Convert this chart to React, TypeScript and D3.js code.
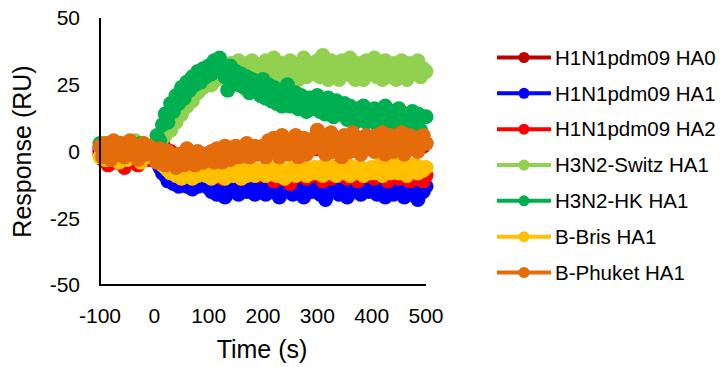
import React from "react";
import * as d3 from "d3";

// time points every 5 s, -100 .. 500
const times = d3.range(-100, 501, 5);

const seriesNames = [
  "H1N1pdm09 HA0",
  "H1N1pdm09 HA1",
  "H1N1pdm09 HA2",
  "H3N2-Switz HA1",
  "H3N2-HK HA1",
  "B-Bris HA1",
  "B-Phuket HA1",
];
const seriesColors = ["#C00000", "#0000FF", "#FF0000", "#92D050", "#00B050", "#FFC000", "#E46C0A"];

// one row = 100 s (20 readings)
const ha0 = [
  1, 0, 1, 0, 0, 1, 0, 1, 0, 0, 1, 0, 1, 0, 0, 1, 0, 1, 0, 0,
  -1, -2, -1, -2, -3, -2, -2, -3, -2, -2, -3, -2, -2, -3, -2, -2, -2, -3, -2, -2,
  -1, -1, -2, -1, 0, -1, 0, -1, 0, 0, 1, 0, 0, 1, 0, 0, 1, 0, 1, 0,
  1, 1, 2, 1, 2, 1, 1, 2, 1, 2, 2, 1, 2, 1, 2, 2, 1, 2, 2, 1,
  3, 2, 3, 2, 2, 3, 2, 3, 2, 2, 3, 2, 3, 2, 2, 3, 2, 3, 2, 2,
  3, 2, 3, 2, 3, 2, 3, 2, 3, 2, 3, 2, 3, 2, 3, 2, 3, 2, 3, 2,
  3,
];
const h1ha1 = [
  0, -2, 1, -3, 0, 2, -1, -3, 1, 0, -2, 2, -1, 0, -3, 1, -2, 0, 1, -1,
  -2, -4, -6, -8, -9, -11, -10, -12, -11, -13, -12, -10, -13, -12, -14, -11, -13, -12, -10, -13,
  -13, -15, -12, -16, -14, -13, -17, -14, -12, -15, -13, -16, -14, -12, -15, -13, -14, -16, -13, -12,
  -14, -16, -13, -15, -12, -14, -17, -13, -15, -14, -12, -16, -13, -15, -14, -17, -13, -12, -15, -14,
  -13, -16, -14, -18, -13, -15, -12, -14, -16, -13, -15, -17, -14, -12, -15, -13, -16, -14, -13, -15,
  -14, -12, -16, -13, -15, -17, -13, -14, -16, -12, -15, -13, -17, -14, -13, -16, -14, -18, -13, -15,
  -13,
];
const h1ha2 = [
  -1, -3, 1, -5, -2, 0, -4, 1, -2, -6, 0, -1, 2, -3, -5, 0, -2, 1, -3, 0,
  1, 2, 0, 3, 1, -1, 0, -2, -3, -2, -4, -5, -4, -6, -5, -7, -6, -8, -6, -7,
  -8, -7, -9, -6, -8, -10, -7, -8, -6, -9, -7, -8, -10, -7, -9, -6, -8, -7, -9, -8,
  -7, -9, -6, -8, -11, -7, -8, -10, -7, -9, -12, -8, -7, -9, -6, -8, -10, -7, -9, -8,
  -7, -9, -11, -8, -7, -10, -8, -6, -9, -7, -8, -10, -7, -9, -8, -11, -7, -8, -9, -7,
  -8, -10, -7, -9, -8, -7, -11, -8, -9, -7, -10, -8, -7, -9, -11, -8, -10, -9, -8, -11,
  -9,
];
const switzHa1 = [
  2, -1, 3, 0, 2, -2, 1, 3, 0, 2, -1, 3, 1, 4, 2, 0, 3, 1, 2, 1,
  0, 2, 1, 5, 6, 9, 8, 12, 11, 15, 14, 18, 17, 20, 19, 23, 22, 25, 24, 26,
  27, 25, 29, 27, 31, 28, 32, 29, 33, 30, 31, 34, 30, 28, 33, 30, 34, 31, 28, 32,
  30, 34, 27, 31, 35, 29, 26, 33, 31, 28, 34, 29, 32, 27, 31, 35, 28, 33, 29, 31,
  34, 28, 36, 30, 27, 34, 29, 33, 27, 34, 29, 31, 35, 28, 27, 33, 30, 27, 34, 29,
  33, 35, 28, 31, 27, 34, 28, 31, 33, 27, 31, 34, 29, 27, 33, 29, 31, 34, 28, 31,
  30,
];
const hkHa1 = [
  3, -2, 1, -3, 2, 0, -2, 3, -1, 1, -3, 2, 0, -2, 1, 3, -1, 0, 2, 1,
  2, 6, 4, 10, 14, 11, 18, 15, 21, 18, 24, 20, 26, 23, 28, 25, 30, 26, 31, 28,
  32, 29, 34, 31, 35, 32, 28, 23, 32, 26, 30, 25, 29, 24, 28, 22, 27, 23, 26, 21,
  27, 20, 25, 19, 24, 18, 23, 17, 22, 25, 17, 20, 22, 16, 21, 18, 15, 20, 16, 19,
  21, 15, 19, 14, 20, 17, 13, 19, 15, 14, 18, 12, 17, 13, 11, 16, 12, 17, 11, 15,
  14, 16, 10, 15, 11, 17, 13, 9, 15, 11, 16, 10, 14, 12, 9, 15, 10, 14, 8, 13,
  13,
];
const brisHa1 = [
  -2, 1, -3, 0, -1, 2, -2, -4, 0, 1, -3, -1, 2, 0, -2, -4, 1, -1, 0, -2,
  -1, -2, -4, -5, -6, -7, -8, -7, -9, -8, -10, -7, -9, -8, -10, -7, -9, -8, -7, -9,
  -8, -10, -7, -9, -8, -6, -10, -8, -7, -9, -6, -8, -10, -7, -9, -8, -6, -9, -7, -8,
  -7, -9, -6, -8, -7, -9, -6, -8, -10, -7, -8, -6, -9, -7, -8, -6, -9, -7, -8, -6,
  -8, -6, -9, -7, -5, -8, -7, -9, -6, -8, -7, -5, -9, -6, -8, -7, -6, -9, -7, -8,
  -6, -8, -7, -5, -9, -7, -6, -8, -7, -5, -8, -6, -7, -9, -6, -7, -5, -8, -6, -7,
  -6,
];
const phuketHa1 = [
  2, -2, 3, 0, -3, 4, 1, -1, 3, -2, 0, 4, -1, 2, -3, 1, 3, -1, 2, 0,
  -1, -4, 1, -3, -5, 0, -4, -2, -6, -1, -3, -5, 1, -4, -2, -5, 0, -3, -4, -1,
  -3, 0, -4, 1, -2, -4, 2, -1, -3, 0, 2, -2, 1, -1, 3, -2, 0, 2, -1, 1,
  2, -2, 4, 0, 5, 1, -2, 6, 2, -1, 4, 1, 6, -2, 2, 5, -1, 4, 1, 5,
  8, 2, 6, -1, 3, 7, 0, 5, 2, -2, 6, 3, 0, 7, 2, 5, -1, 3, 6, 1,
  5, 0, 6, 2, 7, -1, 3, 6, 0, 5, 2, 7, -1, 3, 6, 1, 5, 0, 3, 6,
  3,
];
const seriesValues = [ha0, h1ha1, h1ha2, switzHa1, hkHa1, brisHa1, phuketHa1];

const xTicks = [-100, 0, 100, 200, 300, 400, 500];
const yTicks = [-50, -25, 0, 25, 50];

const font = "'Liberation Sans', Arial, sans-serif";

export default function App() {
  const width = 725;
  const height = 367;
  const left = 100;
  const right = 426;
  const top = 18;
  const bottom = 285;

  const x = d3.scaleLinear().domain([-100, 500]).range([left, right]);
  const y = d3.scaleLinear().domain([-50, 50]).range([bottom, top]);

  const line = d3
    .line<number>()
    .x((_, i) => x(times[i]))
    .y((d) => y(d));

  const legendY = d3.scalePoint<number>().domain(d3.range(7)).range([57.5, 272.5]);

  return (
    <svg
      width={width}
      height={height}
      style={{ position: "absolute", left: 0, top: 0, background: "#fff" }}
      fontFamily={font}
    >
      {/* series: line + big circle markers, later series drawn on top */}
      {seriesValues.map((vals, si) => (
        <g key={si}>
          <path d={line(vals) || ""} fill="none" stroke={seriesColors[si]} strokeWidth={3} />
          {vals.map((v, i) => (
            <circle key={i} cx={x(times[i])} cy={y(v)} r={7.5} fill={seriesColors[si]} />
          ))}
        </g>
      ))}

      {/* axes */}
      <line x1={left} x2={left} y1={top} y2={bottom + 1} stroke="#000" strokeWidth={2} />
      <line x1={left - 1} x2={right} y1={bottom} y2={bottom} stroke="#000" strokeWidth={2} />

      {yTicks.map((t) => (
        <text key={t} x={80} y={y(t)} dy="0.35em" textAnchor="end" fontSize={21} fill="#000">
          {t}
        </text>
      ))}
      {xTicks.map((t) => (
        <text key={t} x={x(t)} y={323} textAnchor="middle" fontSize={21} fill="#000">
          {t}
        </text>
      ))}

      <text x={262} y={358} textAnchor="middle" fontSize={25} fill="#000">
        Time (s)
      </text>
      <text
        transform={`translate(31,${(top + bottom) / 2}) rotate(-90)`}
        textAnchor="middle"
        fontSize={25}
        fill="#000"
      >
        Response (RU)
      </text>

      {/* legend */}
      {seriesNames.map((name, i) => (
        <g key={name} transform={`translate(0,${legendY(i)})`}>
          <line x1={497} x2={551} y1={0} y2={0} stroke={seriesColors[i]} strokeWidth={4} />
          <circle cx={524} cy={0} r={5.5} fill={seriesColors[i]} />
          <text x={555} y={0} dy="0.35em" fontSize={20.5} fill="#000">
            {name}
          </text>
        </g>
      ))}
    </svg>
  );
}
